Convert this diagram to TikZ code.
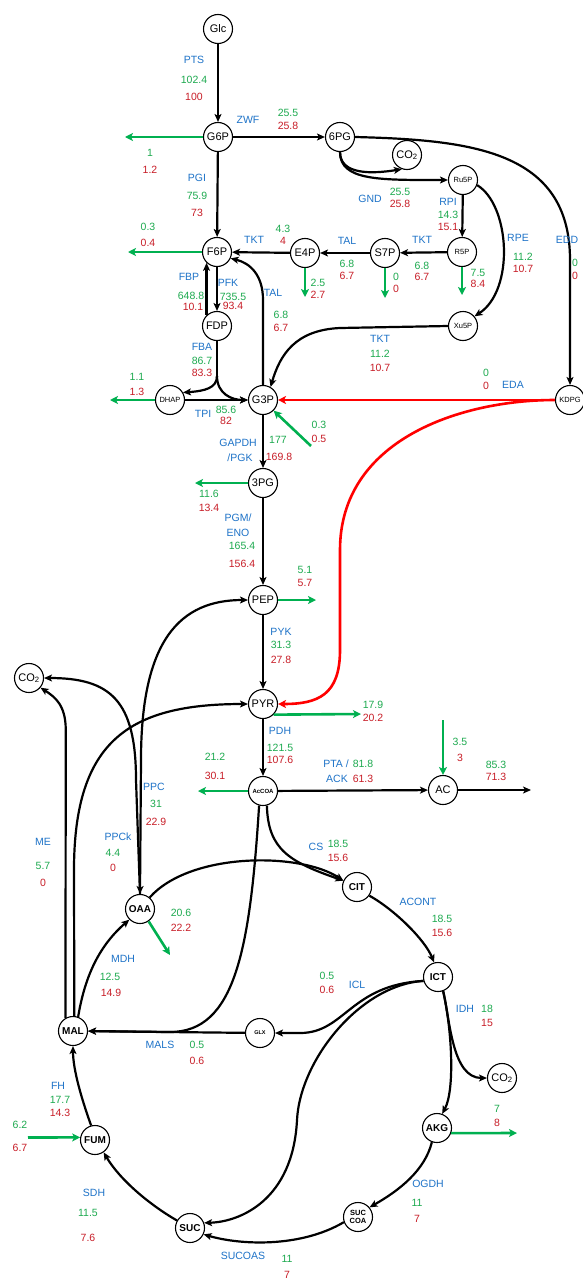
\documentclass[tikz,border=0pt]{standalone}
\usepackage{fontspec}
\setmainfont{Liberation Sans}
\usetikzlibrary{arrows.meta,calc}
\definecolor{eblue}{RGB}{30,115,200}
\definecolor{fgreen}{RGB}{30,170,80}
\definecolor{fred}{RGB}{200,30,40}
\definecolor{agreen}{RGB}{0,176,80}
\begin{document}
\begin{tikzpicture}[x=1pt,y=-1pt,
  met/.style={circle,draw=black,line width=1.1pt,fill=white,minimum size=29pt,inner sep=0pt,font=\fontsize{11}{11}\selectfont},
  mets/.style={met,font=\fontsize{7.5}{7.5}\selectfont},
  metb/.style={met,font=\bfseries\fontsize{10}{10}\selectfont},
  rx/.style={draw=black,line width=2.2pt,-{Stealth[length=8pt,width=7pt,inset=2pt]}},
  rxn/.style={draw=black,line width=2.2pt},
  bi/.style={draw=black,line width=2.2pt,{Stealth[length=8pt,width=7pt,inset=2pt]}-{Stealth[length=8pt,width=7pt,inset=2pt]}},
  ex/.style={draw=agreen,line width=2.6pt,-{Stealth[length=8pt,width=8pt,inset=2pt]}},
  eda/.style={draw=red,line width=2.6pt,-{Stealth[length=8pt,width=8pt,inset=2pt]}},
  lb/.style={font=\fontsize{10.5}{10.5}\selectfont,text=eblue,inner sep=0pt},
  lg/.style={lb,text=fgreen},
  lr/.style={lb,text=fred}]
\fill[white] (0,0) rectangle (583,1279);
\useasboundingbox (0,0) rectangle (583,1279);

% metabolites
\node[met] (Glc) at (218,29) {Glc};
\node[met] (G6P) at (218,137) {G6P};
\node[met] (PG6) at (340,137) {6PG};
\node[met] (CO2a) at (407,155) {CO\textsubscript{2}};
\node[mets] (Ru5P) at (463,180) {Ru5P};
\node[mets] (R5P) at (462,252) {R5P};
\node[met] (S7P) at (385,253) {S7P};
\node[met] (E4P) at (305,253) {E4P};
\node[met] (F6P) at (217,252) {F6P};
\node[met] (FDP) at (217,326) {FDP};
\node[mets] (DHAP) at (170,400) {DHAP};
\node[met] (G3P) at (263,400) {G3P};
\node[mets] (Xu5P) at (463,326) {Xu5P};
\node[mets] (KDPG) at (570,400) {KDPG};
\node[met] (PG3) at (263,483) {3PG};
\node[met] (PEP) at (263,600) {PEP};
\node[met] (PYR) at (263,704) {PYR};
\node[met] (CO2b) at (29,678) {CO\textsubscript{2}};
\node[met,font=\bfseries\fontsize{6}{6}\selectfont] (AcCOA) at (263,791) {AcCOA};
\node[met] (AC) at (443,790) {AC};
\node[metb] (CIT) at (357,887) {CIT};
\node[metb] (OAA) at (140,909) {OAA};
\node[metb] (ICT) at (438,977) {ICT};
\node[metb] (MAL) at (73,1031) {MAL};
\node[met,font=\bfseries\fontsize{5.5}{5.5}\selectfont] (GLX) at (260,1033) {GLX};
\node[met] (CO2c) at (502,1078) {CO\textsubscript{2}};
\node[metb] (FUM) at (95,1140) {FUM};
\node[metb] (AKG) at (437,1128) {AKG};
\node[metb] (SUC) at (190,1228) {SUC};
\node[metb,align=center,font=\bfseries\fontsize{7.5}{8}\selectfont] (SUCCOA) at (358,1217) {SUC\\COA};

% free ends
\coordinate (g6pout) at (125,137);
\coordinate (r5pout) at (462,295);
\coordinate (s7pout) at (385,298);
\coordinate (e4pout) at (305,297);
\coordinate (f6pout) at (128,252);
\coordinate (fba) at (217,376);
\coordinate (dhapout) at (110,400);
\coordinate (g3pin) at (311,446);
\coordinate (pg3out) at (195,483);
\coordinate (pepout) at (316,600);
\coordinate (pyrout) at (361,714);
\coordinate (accoaout) at (198,791);
\coordinate (acin) at (443,720);
\coordinate (acout) at (531,790);
\coordinate (oaaout) at (170,955);
\coordinate (akgout) at (517,1133);
\coordinate (fumin) at (28,1137.5);

% glycolysis / PPP
\draw[rx] (Glc) -- (G6P);
\draw[rx] (G6P) -- (PG6);
\draw[rx] (G6P) -- (F6P);
\draw[ex] (G6P) -- (g6pout);
\draw[rx] (PG6.south) .. controls (340,175) and (372,174) .. (CO2a.250);
\draw[rx] (PG6.south) .. controls (340,181) and (380,180) .. (Ru5P.west);
\draw[rx] (PG6.east) .. controls (470,140) and (570,150) .. (570,260) -- (KDPG.north);
\draw[rx] (Ru5P) -- (R5P);
\draw[rx] (Ru5P.-20) .. controls (510,205) and (515,290) .. (Xu5P.40);
\draw[rx] (R5P) -- (S7P);
\draw[rx] (S7P) -- (E4P);
\draw[rx] (E4P) -- (F6P);
\draw[ex] (R5P) -- (r5pout);
\draw[ex] (S7P) -- (s7pout);
\draw[ex] (E4P) -- (e4pout);
\draw[ex] (F6P) -- (f6pout);
\draw[rx] (F6P.south) -- (FDP.north);
\draw[rx] (FDP.134) -- (F6P.226);
\draw[rxn] (FDP.south) -- (fba);
\draw[rx] (fba) .. controls (217,388) and (205,391) .. (DHAP.30);
\draw[rx] (fba) .. controls (217,394) and (232,400) .. (G3P.west);
\draw[rx] (DHAP) -- (G3P);
\draw[ex] (DHAP) -- (dhapout);
\draw[rx] (G3P.north) -- (263,300) .. controls (263,275) and (250,263) .. (F6P.-25);
\draw[rx] (Xu5P.west) -- (340,328) .. controls (295,330) and (280,355) .. (G3P.60);
\draw[eda] (KDPG) -- (G3P);
\draw[eda] (KDPG.west) .. controls (460,400) and (340,440) .. (340,550) -- (340,650) .. controls (340,695) and (318,704) .. (PYR.east);
\draw[ex] (g3pin) -- (G3P.-45);
\draw[rx] (G3P) -- (PG3);
\draw[ex] (PG3) -- (pg3out);
\draw[rx] (PG3) -- (PEP);
\draw[ex] (PEP) -- (pepout);
\draw[rx] (PEP) -- (PYR);
\draw[ex] (PYR.-45) -- (pyrout);
\draw[rx] (PYR) -- (AcCOA);
\draw[ex] (AcCOA) -- (accoaout);
\draw[rx] (AcCOA) -- (AC);
\draw[ex] (acin) -- (AC);
\draw[rx] (AC) -- (acout);

% anaplerotic
\draw[bi] (OAA.north) -- (141,760) .. controls (141,640) and (180,600) .. (PEP.west);
\draw[rx] (OAA.north) -- (136,780) .. controls (136,700) and (110,678) .. (CO2b.east);
\draw[rx] (MAL.120) -- (65.75,730) .. controls (65.75,705) and (55,697) .. (CO2b.-40);
\draw[rx] (MAL.85) -- (74,870) .. controls (74,740) and (130,704) .. (PYR.west);

% TCA
\draw[rx] (AcCOA.-75) .. controls (268,850) and (290,862) .. (CIT.155);
\draw[rx] (OAA.50) .. controls (190,852) and (300,852) .. (CIT.155);
\draw[rx] (AcCOA.255) .. controls (250,950) and (235,1032) .. (170,1032) -- (MAL.east);
\draw[rx] (MAL.70) .. controls (85,975) and (100,945) .. (OAA.225);
\draw[ex] (OAA.-55) -- (oaaout);
\draw[rx] (CIT.-35) .. controls (395,910) and (425,940) .. (ICT.105);
\draw[rx] (ICT.195) .. controls (350,985) and (345,1033) .. (300,1033) -- (GLX.east);
\draw[rx] (ICT.195) .. controls (360,985) and (300,1060) .. (297,1120) .. controls (293,1200) and (240,1222) .. (SUC.20);
\draw[rx] (GLX) -- (MAL);
\draw[rx] (ICT.-70) .. controls (452,1030) and (455,1090) .. (AKG.70);
\draw[rx] (ICT.-70) .. controls (450,1020) and (452,1078) .. (CO2c.west);
\draw[ex] (AKG.-20) -- (akgout);
\draw[rx] (AKG.-110) .. controls (425,1170) and (400,1190) .. (SUCCOA.40);
\draw[rx] (SUCCOA.-160) .. controls (300,1248) and (240,1245) .. (SUC.-25);
\draw[rx] (SUC.150) .. controls (150,1205) and (120,1180) .. (FUM.-55);
\draw[rx] (FUM.105) .. controls (82,1100) and (73,1070) .. (MAL.south);
\draw[ex] (fumin) -- (FUM.170);

% labels
\node[lb] (tPTS) at (194,60) {PTS};
\node[lg] (gPTS) at (194,80) {102.4};
\node[lr] (rPTS) at (194,97) {100};
\node[lg] (gG6P) at (150,153) {1};
\node[lr] (rG6P) at (150,170) {1.2};
\node[lb] (tZWF) at (248,120) {ZWF};
\node[lg] (gZWF) at (288,113) {25.5};
\node[lr] (rZWF) at (288,126) {25.8};
\node[lb] (tPGI) at (197,178) {PGI};
\node[lg] (gPGI) at (197,196) {75.9};
\node[lr] (rPGI) at (197,213) {73};
\node[lb] (tGND) at (370,199) {GND};
\node[lg] (gGND) at (400,192) {25.5};
\node[lr] (rGND) at (400,204) {25.8};
\node[lb] (tRPI) at (448,202) {RPI};
\node[lg] (gRPI) at (448,215) {14.3};
\node[lr] (rRPI) at (448,227) {15.1};
\node[lb] (tRPE) at (518,238) {RPE};
\node[lg] (gRPE) at (523,257) {11.2};
\node[lr] (rRPE) at (523,269) {10.7};
\node[lb] (tEDD) at (567,240) {EDD};
\node[lg] (gEDD) at (575,263) {0};
\node[lr] (rEDD) at (575,276) {0};
\node[lb] (tTKT1) at (422,240) {TKT};
\node[lg] (gTKT1) at (422,266) {6.8};
\node[lr] (rTKT1) at (422,277) {6.7};
\node[lb] (tTAL1) at (347,241) {TAL};
\node[lg] (gTAL1) at (347,264) {6.8};
\node[lr] (rTAL1) at (347,276) {6.7};
\node[lb] (tTKT2) at (254,240) {TKT};
\node[lg] (gTKT2) at (283,229) {4.3};
\node[lr] (rTKT2) at (283,241) {4};
\node[lg] (gR5P) at (478,273) {7.5};
\node[lr] (rR5P) at (478,284) {8.4};
\node[lg] (gS7P) at (396,277) {0};
\node[lr] (rS7P) at (396,289) {0};
\node[lg] (gE4P) at (318,283) {2.5};
\node[lr] (rE4P) at (318,295) {2.7};
\node[lg] (gF6P) at (148,227) {0.3};
\node[lr] (rF6P) at (148,243) {0.4};
\node[lb] (tFBP) at (189,277) {FBP};
\node[lg] (gFBP) at (191,296) {648.8};
\node[lr] (rFBP) at (193,307) {10.1};
\node[lb] (tPFK) at (228,283) {PFK};
\node[lg] (gPFK) at (233,297) {735.5};
\node[lr] (rPFK) at (233,306) {93.4};
\node[lb] (tTAL2) at (273,293) {TAL};
\node[lg] (gTAL2) at (281,315) {6.8};
\node[lr] (rTAL2) at (281,328) {6.7};
\node[lb] (tFBA) at (202,347) {FBA};
\node[lg] (gFBA) at (202,361) {86.7};
\node[lr] (rFBA) at (202,373) {83.3};
\node[lg] (gDHAP) at (137,377) {1.1};
\node[lr] (rDHAP) at (137,392) {1.3};
\node[lb] (tTPI) at (203,414) {TPI};
\node[lg] (gTPI) at (226,410) {85.6};
\node[lr] (rTPI) at (226,421) {82};
\node[lb] (tTKT3) at (380,339) {TKT};
\node[lg] (gTKT3) at (380,354) {11.2};
\node[lr] (rTKT3) at (380,368) {10.7};
\node[lg] (gEDA) at (486,373) {0};
\node[lr] (rEDA) at (486,386) {0};
\node[lb] (tEDA) at (513,385) {EDA};
\node[lg] (gG3Pin) at (319,425) {0.3};
\node[lr] (rG3Pin) at (319,439) {0.5};
\node[lb] (tGAPDH) at (238,443) {GAPDH};
\node[lb] (tPGK) at (240,458) {/PGK};
\node[lg] (gGAPDH) at (278,440) {177};
\node[lr] (rGAPDH) at (279,457) {169.8};
\node[lg] (g3PG) at (209,494) {11.6};
\node[lr] (r3PG) at (209,508) {13.4};
\node[lb] (tPGM) at (238,518) {PGM/};
\node[lb] (tENO) at (238,533) {ENO};
\node[lg] (gENO) at (242,546) {165.4};
\node[lr] (rENO) at (242,564) {156.4};
\node[lg] (gPEP) at (305,570) {5.1};
\node[lr] (rPEP) at (305,583) {5.7};
\node[lb] (tPYK) at (281,632) {PYK};
\node[lg] (gPYK) at (281,645) {31.3};
\node[lr] (rPYK) at (281,660) {27.8};
\node[lg] (gPYR) at (373,705) {17.9};
\node[lr] (rPYR) at (373,718) {20.2};
\node[lb] (tPDH) at (280,731) {PDH};
\node[lg] (gPDH) at (280,748) {121.5};
\node[lr] (rPDH) at (280,760) {107.6};
\node[lg] (gAcCOA) at (215,757) {21.2};
\node[lr] (rAcCOA) at (215,776) {30.1};
\node[lb] (tPTA) at (336,764) {PTA /};
\node[lg] (gPTA) at (363,764) {81.8};
\node[lb] (tACK) at (337,779) {ACK};
\node[lr] (rPTA) at (363,779) {61.3};
\node[lg] (gACin) at (460,742) {3.5};
\node[lr] (rACin) at (460,758) {3};
\node[lg] (gACout) at (496,765) {85.3};
\node[lr] (rACout) at (496,777) {71.3};
\node[lb] (tPPC) at (154,787) {PPC};
\node[lg] (gPPC) at (156,804) {31};
\node[lr] (rPPC) at (156,822) {22.9};
\node[lb] (tPPCk) at (118,837) {PPCk};
\node[lg] (gPPCk) at (113,853) {4.4};
\node[lr] (rPPCk) at (113,868) {0};
\node[lb] (tME) at (43,842) {ME};
\node[lg] (gME) at (43,866) {5.7};
\node[lr] (rME) at (43,883) {0};
\node[lb] (tCS) at (316,847) {CS};
\node[lg] (gCS) at (338,844) {18.5};
\node[lr] (rCS) at (338,858) {15.6};
\node[lb] (tACONT) at (418,902) {ACONT};
\node[lg] (gACONT) at (442,919) {18.5};
\node[lr] (rACONT) at (442,933) {15.6};
\node[lg] (gOAA) at (181,913) {20.6};
\node[lr] (rOAA) at (181,928) {22.2};
\node[lb] (tMDH) at (123,959) {MDH};
\node[lg] (gMDH) at (110,977) {12.5};
\node[lr] (rMDH) at (111,993) {14.9};
\node[lg] (gICL) at (327,976) {0.5};
\node[lr] (rICL) at (327,990) {0.6};
\node[lb] (tICL) at (357,985) {ICL};
\node[lb] (tIDH) at (465,1009) {IDH};
\node[lg] (gIDH) at (487,1009) {18};
\node[lr] (rIDH) at (487,1023) {15};
\node[lb] (tMALS) at (160,1045) {MALS};
\node[lg] (gMALS) at (197,1045) {0.5};
\node[lr] (rMALS) at (197,1061) {0.6};
\node[lb] (tFH) at (58,1086) {FH};
\node[lg] (gFH) at (60,1100) {17.7};
\node[lr] (rFH) at (60,1113) {14.3};
\node[lg] (gFUM) at (20,1125) {6.2};
\node[lr] (rFUM) at (20,1148) {6.7};
\node[lg] (gAKG) at (497,1109) {7};
\node[lr] (rAKG) at (497,1123) {8};
\node[lb] (tOGDH) at (428,1184) {OGDH};
\node[lg] (gOGDH) at (417,1203) {11};
\node[lr] (rOGDH) at (417,1219) {7};
\node[lb] (tSDH) at (94,1193) {SDH};
\node[lg] (gSDH) at (88,1213) {11.5};
\node[lr] (rSDH) at (88,1238) {7.6};
\node[lb] (tSUCOAS) at (243,1256) {SUCOAS};
\node[lg] (gSUCOAS) at (287,1259) {11};
\node[lr] (rSUCOAS) at (287,1275) {7};
\end{tikzpicture}
\end{document}
